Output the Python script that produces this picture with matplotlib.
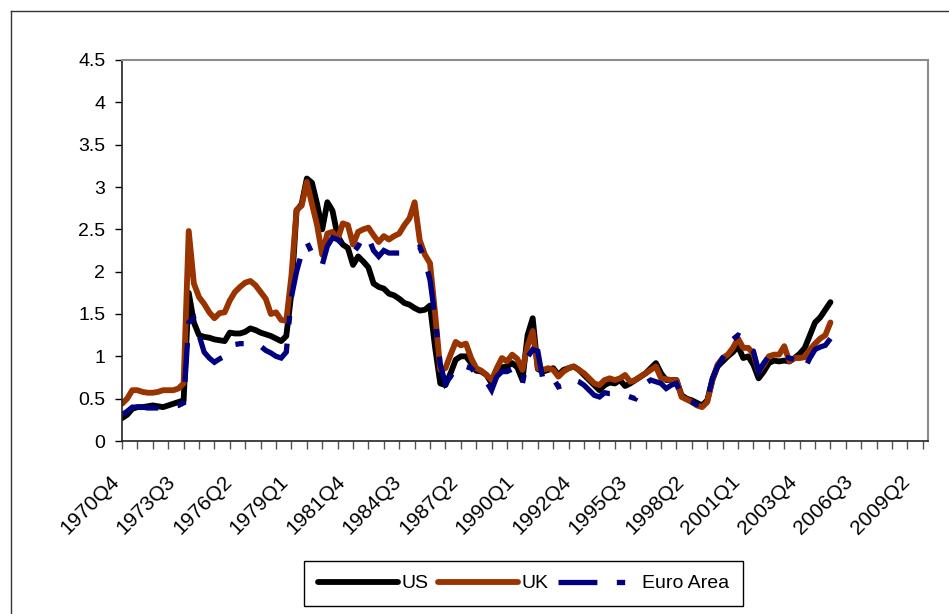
import matplotlib
matplotlib.use('Agg')
import matplotlib.pyplot as plt
import matplotlib.transforms as mtransforms
import numpy as np
from matplotlib.lines import Line2D

plt.rcParams['font.family'] = ['Liberation Sans', 'DejaVu Sans']
plt.rcParams['lines.scale_dashes'] = False

# quarterly categories, 1970Q4 .. 2010Q1
quarters = [f"{1970 + (3 + k) // 4}Q{(3 + k) % 4 + 1}" for k in range(158)]

# series values, 1970Q4 onwards
us = [0.27, 0.31, 0.38, 0.40, 0.40, 0.41, 0.42, 0.41, 0.40, 0.42,
      0.44, 0.46, 0.48, 1.75, 1.40, 1.25, 1.23, 1.22, 1.20, 1.19,
      1.18, 1.28, 1.27, 1.27, 1.29, 1.33, 1.31, 1.28, 1.26, 1.24,
      1.21, 1.18, 1.24, 1.75, 2.72, 2.80, 3.10, 3.05, 2.80, 2.50,
      2.82, 2.72, 2.42, 2.32, 2.28, 2.08, 2.18, 2.12, 2.05, 1.86,
      1.82, 1.80, 1.74, 1.72, 1.68, 1.63, 1.61, 1.57, 1.54, 1.55,
      1.60, 1.10, 0.68, 0.66, 0.80, 0.96, 1.00, 1.00, 0.92, 0.83,
      0.82, 0.78, 0.68, 0.80, 0.87, 0.88, 0.92, 0.87, 0.72, 1.25,
      1.45, 0.85, 0.82, 0.84, 0.86, 0.78, 0.84, 0.86, 0.88, 0.84,
      0.78, 0.72, 0.66, 0.60, 0.66, 0.69, 0.68, 0.72, 0.65, 0.68,
      0.72, 0.76, 0.80, 0.86, 0.92, 0.80, 0.72, 0.72, 0.72, 0.54,
      0.50, 0.48, 0.45, 0.42, 0.48, 0.72, 0.88, 0.94, 1.00, 1.05,
      1.12, 0.98, 1.00, 0.90, 0.74, 0.82, 0.92, 0.95, 0.94, 0.95,
      0.94, 0.98, 1.03, 1.10, 1.25, 1.40, 1.46, 1.55, 1.64]

uk = [0.44, 0.50, 0.60, 0.60, 0.58, 0.57, 0.57, 0.58, 0.60, 0.60,
      0.60, 0.62, 0.68, 2.48, 1.86, 1.70, 1.62, 1.52, 1.45, 1.51,
      1.52, 1.66, 1.76, 1.82, 1.87, 1.89, 1.84, 1.76, 1.68, 1.50,
      1.52, 1.43, 1.42, 1.95, 2.73, 2.78, 3.06, 2.80, 2.55, 2.20,
      2.45, 2.47, 2.38, 2.57, 2.55, 2.32, 2.47, 2.50, 2.52, 2.43,
      2.35, 2.42, 2.38, 2.42, 2.45, 2.55, 2.63, 2.82, 2.37, 2.20,
      2.10, 1.50, 0.84, 0.86, 1.02, 1.17, 1.13, 1.15, 0.98, 0.86,
      0.83, 0.78, 0.72, 0.86, 0.98, 0.94, 1.02, 0.97, 0.84, 1.12,
      1.30, 0.86, 0.84, 0.86, 0.84, 0.76, 0.82, 0.86, 0.88, 0.84,
      0.80, 0.74, 0.68, 0.66, 0.72, 0.74, 0.72, 0.74, 0.78, 0.70,
      0.72, 0.76, 0.80, 0.84, 0.88, 0.74, 0.73, 0.72, 0.72, 0.52,
      0.49, 0.46, 0.42, 0.40, 0.46, 0.72, 0.90, 0.98, 1.02, 1.10,
      1.21, 1.10, 1.10, 1.03, 0.82, 0.90, 1.00, 1.02, 1.02, 1.12,
      0.94, 0.98, 0.98, 0.99, 1.08, 1.15, 1.21, 1.25, 1.40]

euro = [0.31, 0.35, 0.40, 0.40, 0.40, 0.39, 0.39, 0.39, 0.39, 0.40,
        0.41, 0.42, 0.45, 1.40, 1.45, 1.25, 1.05, 0.98, 0.93, 0.97,
        1.00, 1.10, 1.14, 1.15, 1.15, 1.15, 1.16, 1.12, 1.07, 1.04,
        1.00, 0.98, 1.05, 1.70, 2.00, 2.22, 2.35, 2.22, 2.18, 2.08,
        2.30, 2.40, 2.38, 2.32, 2.25, 2.22, 2.30, 2.42, 2.40, 2.25,
        2.18, 2.25, 2.22, 2.22, 2.22, 2.24, 2.27, 2.28, 2.29, 2.14,
        1.90, 1.45, 0.90, 0.68, 0.76, 0.86, 0.90, 0.88, 0.86, 0.80,
        0.76, 0.70, 0.60, 0.76, 0.82, 0.82, 0.85, 0.80, 0.68, 0.99,
        1.08, 1.06, 0.72, 0.70, 0.74, 0.64, 0.66, 0.72, 0.72, 0.70,
        0.66, 0.60, 0.54, 0.52, 0.57, 0.56, 0.56, 0.55, 0.54, 0.52,
        0.50, 0.60, 0.68, 0.72, 0.70, 0.68, 0.62, 0.66, 0.68, 0.52,
        0.48, 0.46, 0.43, 0.42, 0.48, 0.74, 0.88, 0.98, 1.08, 1.20,
        1.25, 1.22, 1.10, 1.06, 0.82, 0.92, 1.00, 0.99, 0.98, 0.99,
        0.98, 0.96, 0.92, 0.86, 0.98, 1.08, 1.11, 1.13, 1.21]

fig = plt.figure(figsize=(9.49, 6.14), dpi=100)
W, H = 949, 614
ax = fig.add_axes([122 / W, 1 - 441 / H, (928 - 122) / W, (441 - 60) / H])

x = np.arange(len(us))
ax.plot(x, us, color='black', lw=4.2, solid_joinstyle='round',
        solid_capstyle='round', label='US')
ax.plot(x, uk, color='#993300', lw=4.2, solid_joinstyle='round',
        solid_capstyle='round', label='UK')
ax.plot(x, euro, color='#000080', lw=3.8, dashes=[28, 14, 6, 14],
        dash_capstyle='butt', dash_joinstyle='miter', label='Euro Area')

ax.set_xlim(0, len(quarters) - 1)
ax.set_ylim(0, 4.5)

yt = np.arange(0, 4.51, 0.5)
ax.set_yticks(yt)
ax.set_yticklabels([f"{v:g}" for v in yt], fontsize=14)
ax.tick_params(axis='y', direction='out', length=5, width=1, pad=7)

lab_pos = list(range(0, len(quarters), 11))
ax.set_xticks(lab_pos)
ax.set_xticklabels([quarters[i] for i in lab_pos], rotation=45, ha='right',
                   va='center', rotation_mode='anchor', fontsize=15)
ax.set_xticks(range(0, len(quarters), 3), minor=True)
ax.xaxis.remove_overlapping_locs = False
ax.tick_params(axis='x', which='major', length=0, pad=27)
ax.tick_params(axis='x', which='minor', direction='out', length=6,
               width=1, color='#555555')
shift = mtransforms.ScaledTranslation(-6 / 100, 0, fig.dpi_scale_trans)
for lab in ax.get_xticklabels():
    lab.set_transform(lab.get_transform() + shift)

for s in ['top', 'right']:
    ax.spines[s].set_color('#8c8c8c')
    ax.spines[s].set_linewidth(1.5)
for s in ['left', 'bottom']:
    ax.spines[s].set_color('#222222')
    ax.spines[s].set_linewidth(1.2)

# outer chart border (top and left edge visible)
fig.add_artist(Line2D([11 / W, 11 / W], [0, 1 - 11 / H], color='#333333', lw=1))
fig.add_artist(Line2D([11 / W, 1], [1 - 11 / H, 1 - 11 / H], color='#333333', lw=1))

leg = ax.legend(loc='center', bbox_to_anchor=(523.5 / W, 1 - 583.5 / H),
                bbox_transform=fig.transFigure, ncol=3, fontsize=14,
                frameon=True, fancybox=False, edgecolor='black', framealpha=1,
                handlelength=4.1, handletextpad=0.2, columnspacing=0.5,
                borderpad=0.7, borderaxespad=0)
leg.get_frame().set_linewidth(1)

fig.savefig('out.png', dpi=100)
